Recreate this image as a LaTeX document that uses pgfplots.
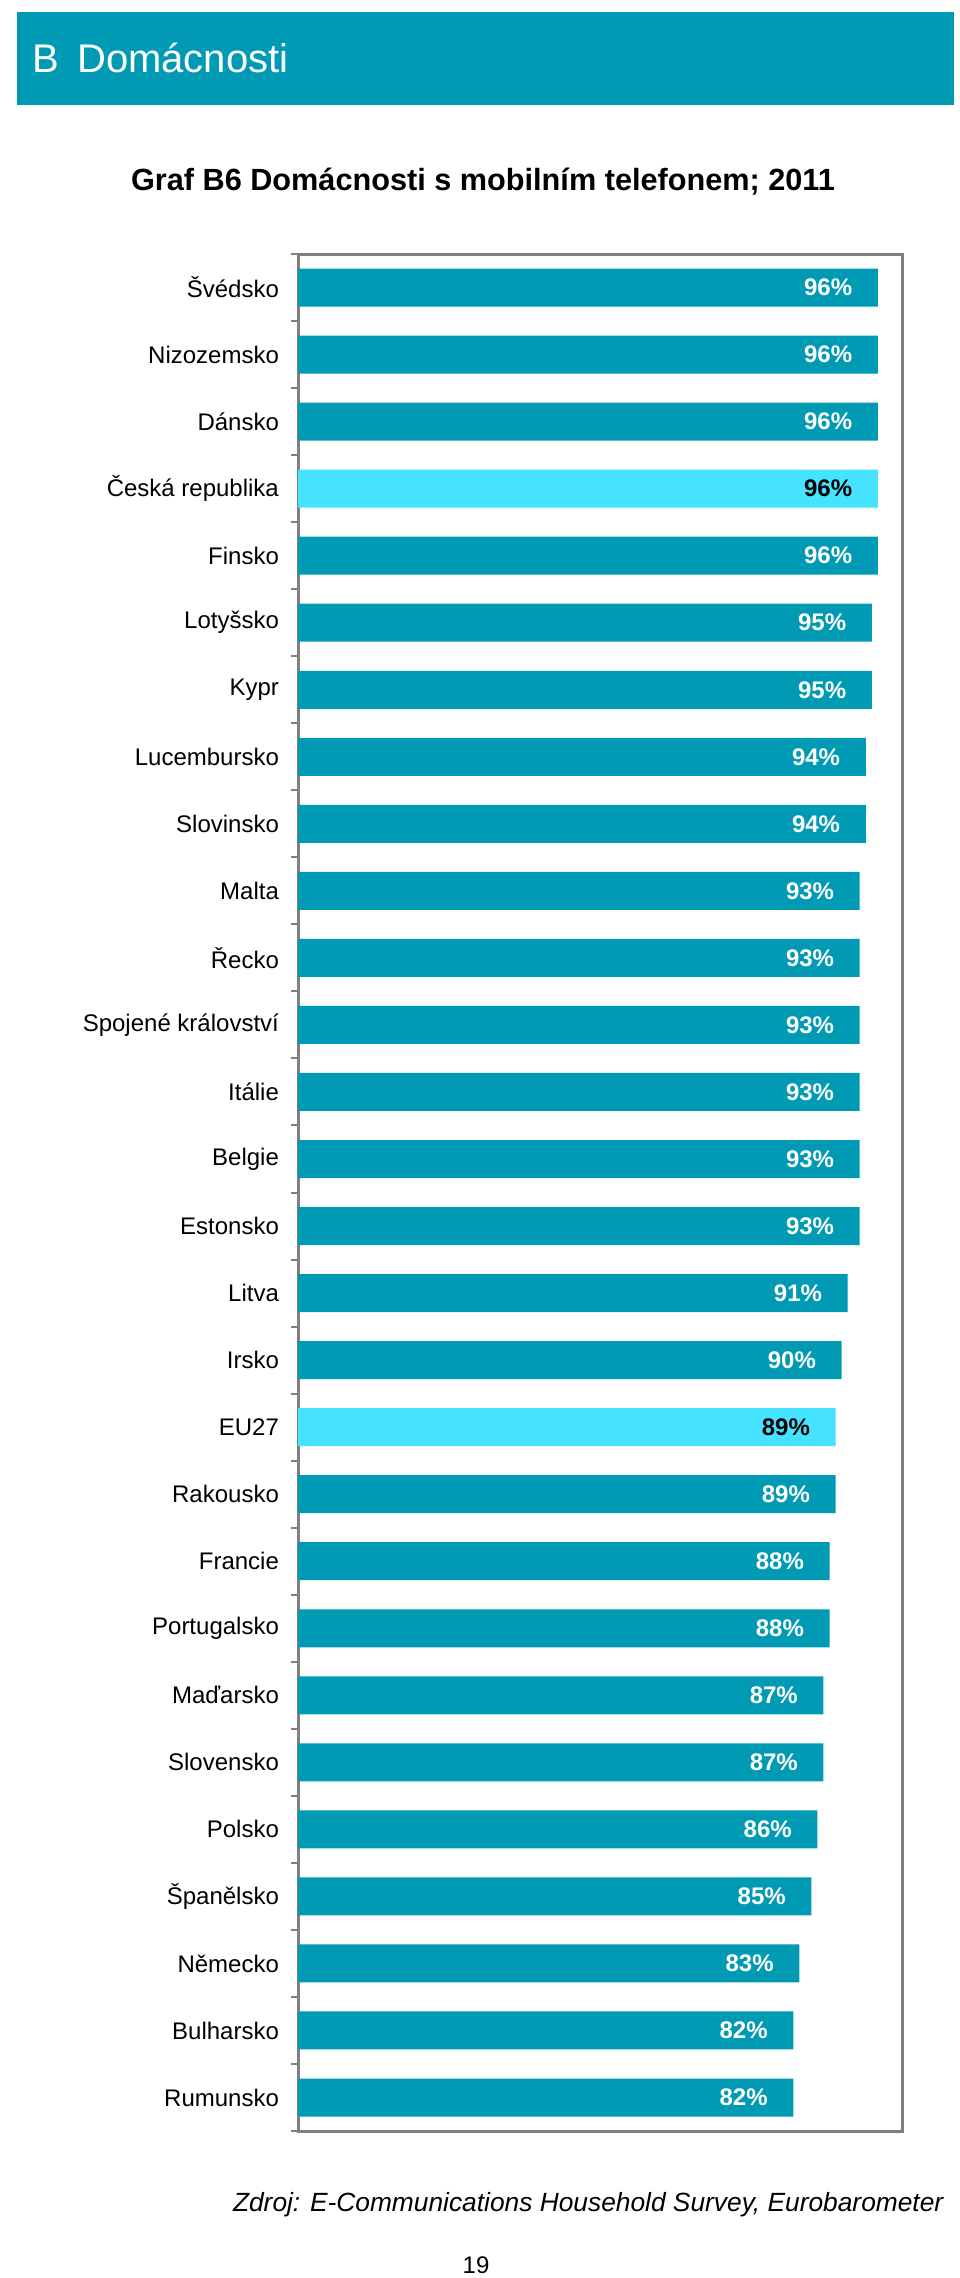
\documentclass[border=0pt]{standalone}
\usepackage{pgfplots}
\pgfplotsset{compat=1.18}
\usepackage{fontspec}
\setmainfont{Liberation Sans}
\definecolor{tealbar}{RGB}{0,154,180}
\definecolor{lightbar}{RGB}{69,227,255}
\definecolor{framegray}{RGB}{128,128,128}
\begin{document}
\begin{tikzpicture}[x=1pt,y=1pt]
\useasboundingbox[fill=white] (0,0) rectangle (288,683.4);
\fill[tealbar] (5.1,651.9) rectangle (286.2,679.8);
\node[anchor=west, text=white, font=\fontsize{12}{14}\selectfont, inner sep=0] at (9.6,666) {B\hspace{0.45em}Domácnosti};
\node[font=\fontsize{9.2}{11}\selectfont\bfseries, inner sep=0] at (144.9,628.8) {Graf B6 Domácnosti s mobilním telefonem; 2011};
\begin{axis}[
  at={(89.4pt,44.1pt)}, anchor=south west,
  scale only axis, width=181.2pt, height=563.1pt,
  xbar, xmin=0, xmax=100,
  ymin=-0.5, ymax=27.5, y dir=reverse,
  xtick=\empty,
  ytick={0,...,27},
  yticklabels={Švédsko,Nizozemsko,Dánsko,Česká republika,Finsko,Lotyšsko,Kypr,Lucembursko,Slovinsko,Malta,Řecko,Spojené království,Itálie,Belgie,Estonsko,Litva,Irsko,EU27,Rakousko,Francie,Portugalsko,Maďarsko,Slovensko,Polsko,Španělsko,Německo,Bulharsko,Rumunsko},
  minor ytick={-0.5,0.5,...,27.5},
  major tick length=0pt,
  minor tick length=2.1pt,
  tick align=outside,
  ytick pos=left,
  minor tick style={draw=framegray, line width=0.6pt},
  yticklabel style={font=\fontsize{7.2}{8.5}\selectfont, xshift=-2.2pt},
  axis line style={draw=framegray, line width=0.9pt},
  /pgf/number format/assume math mode=true,
  bar width=11.4pt,
  nodes near coords={\pgfmathprintnumber{\pgfplotspointmeta}\%},
  every node near coord/.append style={anchor=east, xshift=-7.5pt, inner sep=0pt, font=\fontsize{7.2}{8}\selectfont\bfseries},
  clip=false,
]
\addplot[fill=tealbar, draw=none, bar shift=0pt, every node near coord/.append style={text=white}] coordinates {
(96,0) (96,1) (96,2) (96,4) (95,5) (95,6) (94,7) (94,8) (93,9) (93,10) (93,11) (93,12) (93,13) (93,14) (91,15) (90,16) (89,18) (88,19) (88,20) (87,21) (87,22) (86,23) (85,24) (83,25) (82,26) (82,27)
};
\addplot[fill=lightbar, draw=none, bar shift=0pt, every node near coord/.append style={text=black}] coordinates {
(96,3) (89,17)
};
\end{axis}
\node[anchor=east, font=\fontsize{7.9}{9}\selectfont\itshape, inner sep=0] at (283.2,21.9) {Zdroj: E-Communications Household Survey, Eurobarometer};
\node[font=\fontsize{7.2}{8}\selectfont, inner sep=0] at (142.8,3.8) {19};
\end{tikzpicture}
\end{document}
